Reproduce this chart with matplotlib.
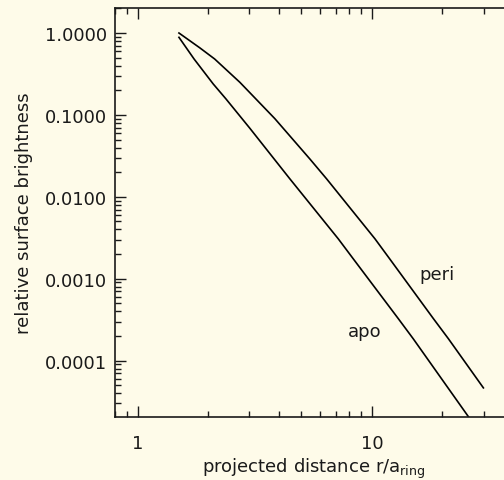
import matplotlib
matplotlib.use('Agg')
import matplotlib.pyplot as plt
from matplotlib.ticker import LogLocator, NullFormatter

# curves (log-log)
peri_x = [1.50, 1.84, 2.13, 2.73, 3.85, 5.43, 6.40, 10.3, 11.9, 18.3, 21.2, 29.9]
peri_y = [1.0, 0.66, 0.482, 0.250, 0.090, 0.029, 0.0166, 0.00307, 0.00175, 3.25e-4, 1.85e-4, 4.65e-5]

apo_x = [1.50, 1.74, 2.10, 2.38, 3.01, 4.46, 7.18, 8.32, 12.96, 15.0, 25.8]
apo_y = [0.886, 0.482, 0.239, 0.157, 0.0688, 0.0166, 0.00307, 0.00175, 3.25e-4, 1.85e-4, 2.07e-5]

ytick_vals = [1.0, 0.1, 0.01, 0.001, 0.0001]
ytick_labels = ['1.0000', '0.1000', '0.0100', '0.0010', '0.0001']
xtick_vals = [1, 10]
xtick_labels = ['1', '10']

bg = '#fefbe9'
ink = '#1a1a1a'
W, H = 504, 481

fig = plt.figure(figsize=(W / 100, H / 100), dpi=100, facecolor=bg)
# axes runs a bit past the right edge, as in the reference
ax = fig.add_axes([115 / W, 1 - 418 / H, (513 - 115) / W, (418 - 9) / H])
ax.set_facecolor(bg)

ax.plot(peri_x, peri_y, color='black', lw=1.2)
ax.plot(apo_x, apo_y, color='black', lw=1.2)

ax.set_xscale('log')
ax.set_yscale('log')
ax.set_xlim(0.8, 40)
ax.set_ylim(2.05e-5, 2.02)

ax.set_xticks(xtick_vals)
ax.set_xticklabels(xtick_labels)
ax.set_yticks(ytick_vals)
ax.set_yticklabels(ytick_labels)
ax.xaxis.set_minor_locator(LogLocator(base=10, subs=range(2, 10)))
ax.yaxis.set_minor_locator(LogLocator(base=10, subs=range(2, 10), numticks=20))
ax.xaxis.set_minor_formatter(NullFormatter())
ax.yaxis.set_minor_formatter(NullFormatter())

ax.tick_params(which='both', direction='in', top=True, right=False,
               colors=ink, labelsize=13, width=1.0)
ax.tick_params(which='major', length=8, pad=6)
ax.tick_params(which='minor', length=4.5)
ax.tick_params(axis='x', which='major', pad=12)

for s in ['left', 'top', 'bottom']:
    ax.spines[s].set_linewidth(1.2)
    ax.spines[s].set_color(ink)
ax.spines['right'].set_visible(False)

ax.set_xlabel('projected distance r/a$_{\\mathregular{ring}}$', fontsize=13,
              color=ink, labelpad=3)
ax.set_ylabel('relative surface brightness', fontsize=13, color=ink,
              labelpad=8)

ax.text(18.95, 1.15e-3, 'peri', fontsize=13, ha='center', va='center', color=ink)
ax.text(9.33, 2.32e-4, 'apo', fontsize=13, ha='center', va='center', color=ink)

fig.savefig('out.png', dpi=100, facecolor=bg)
